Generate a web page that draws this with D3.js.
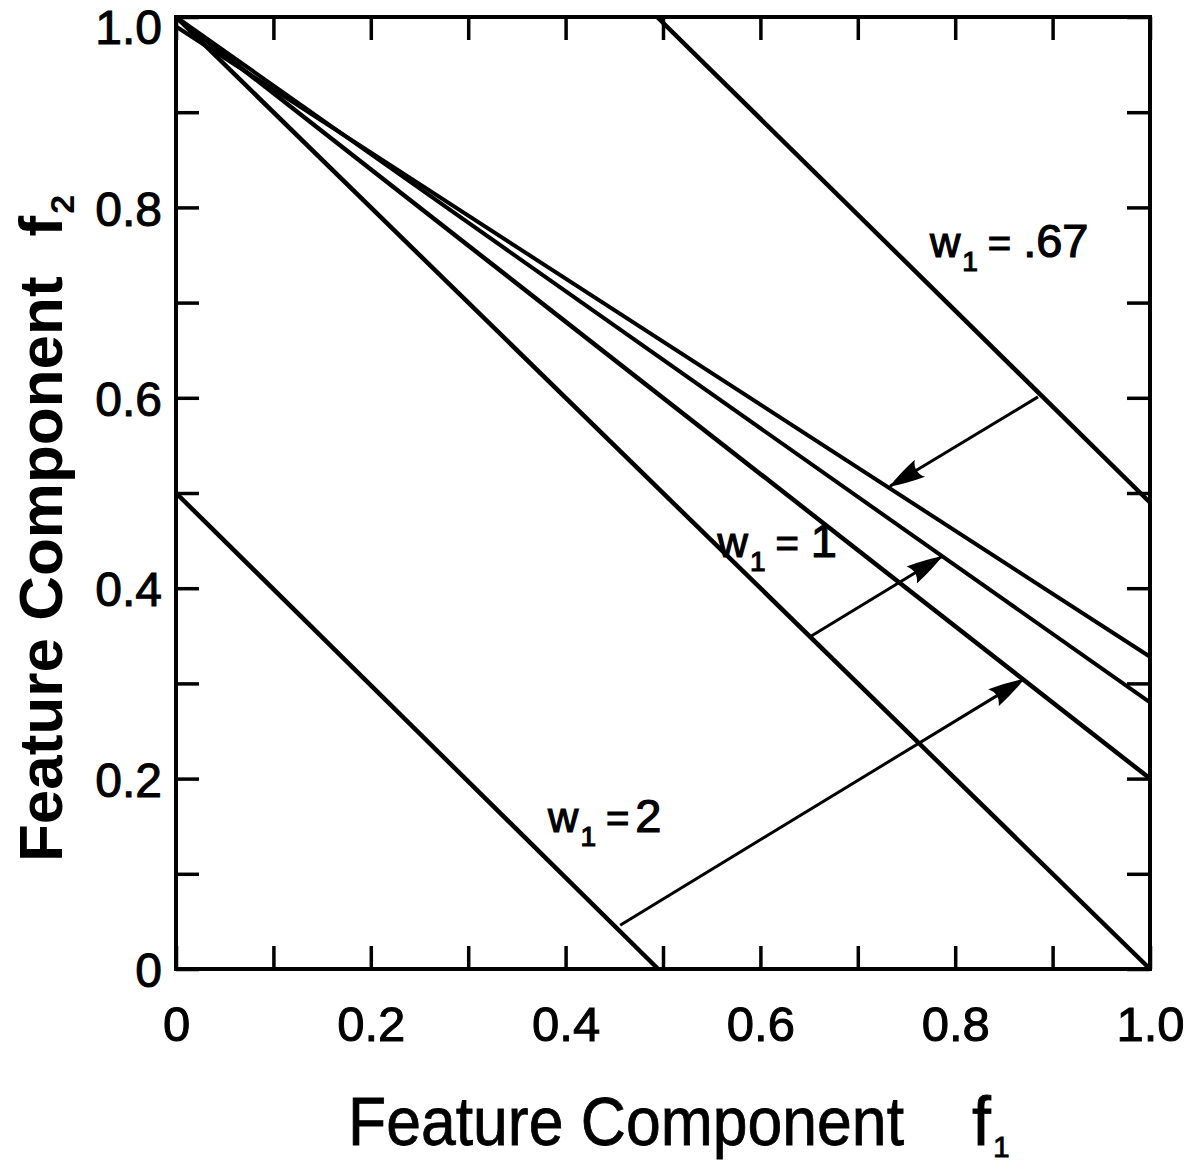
<!DOCTYPE html>
<html><head><meta charset="utf-8">
<script src="https://cdn.jsdelivr.net/npm/d3@7"></script>
<style>html,body{margin:0;padding:0;background:#fff}svg{display:block}</style>
</head><body>
<svg id="c" width="1192" height="1169"></svg>
<script>
// ---- data ----
const xTickValues = [0, 0.1, 0.2, 0.3, 0.4, 0.5, 0.6, 0.7, 0.8, 0.9, 1.0];
const yTickValues = [0, 0.1, 0.2, 0.3, 0.4, 0.5, 0.6, 0.7, 0.8, 0.9, 1.0];
const xLabelValues = [0, 0.2, 0.4, 0.6, 0.8, 1.0];
const xLabels = ["0", "0.2", "0.4", "0.6", "0.8", "1.0"];
const yLabelValues = [0, 0.2, 0.4, 0.6, 0.8, 1.0];
const yLabels = ["0", "0.2", "0.4", "0.6", "0.8", "1.0"];

// decision boundaries (f1, f2 at both ends)
const lineStartF1 = [0, 0, 0, 0, 0, 0.494];
const lineStartF2 = [0.5, 1.0, 1.0, 1.0, 0.99, 1.0];
const lineEndF1 = [0.495, 1.0, 1.0, 1.0, 1.0, 1.0];
const lineEndF2 = [0, 0, 0.2, 0.28, 0.328, 0.49];

// arrows (from -> to)
const arrowFromF1 = [0.885, 0.651, 0.456];
const arrowFromF2 = [0.601, 0.349, 0.046];
const arrowToF1 = [0.733, 0.786, 0.870];
const arrowToF2 = [0.507, 0.433, 0.304];

// weight annotations
const weightValues = [".67", "1", "2"];
const weightAtF1 = [0.774, 0.556, 0.382];
const weightAtF2 = [0.748, 0.433, 0.144];

const xTitle = "Feature Component";
const yTitle = "Feature Component";

// ---- drawing ----
const svg = d3.select("#c");
const FONT = "'Liberation Sans', Arial, sans-serif";
const x = d3.scaleLinear().domain([0, 1]).range([176, 1150]);
const y = d3.scaleLinear().domain([0, 1]).range([969, 17]);

const defs = svg.append("defs");
defs.append("marker").attr("id", "ah")
  .attr("viewBox", "0 0 36 24").attr("refX", 35).attr("refY", 12)
  .attr("markerWidth", 36).attr("markerHeight", 24)
  .attr("markerUnits", "userSpaceOnUse").attr("orient", "auto")
  .append("path").attr("d", "M0,2 Q20,6 36,12 Q20,18 0,22 Q8,12 0,2 Z").attr("fill", "#000");

// ticks (inward) on all four sides
const tl = 23;
function styleAxis(g) {
  g.select(".domain").remove();
  g.selectAll(".tick line").attr("stroke", "#000").attr("stroke-width", 3.5);
  g.selectAll(".tick text").remove();
}
svg.append("g").attr("transform", `translate(0,${y(0)})`)
  .call(d3.axisBottom(x).tickValues(xTickValues).tickSizeInner(-tl).tickSizeOuter(0)).call(styleAxis);
svg.append("g").attr("transform", `translate(0,${y(1)})`)
  .call(d3.axisTop(x).tickValues(xTickValues).tickSizeInner(-tl).tickSizeOuter(0)).call(styleAxis);
svg.append("g").attr("transform", `translate(${x(0)},0)`)
  .call(d3.axisLeft(y).tickValues(yTickValues).tickSizeInner(-tl).tickSizeOuter(0)).call(styleAxis);
svg.append("g").attr("transform", `translate(${x(1)},0)`)
  .call(d3.axisRight(y).tickValues(yTickValues).tickSizeInner(-tl).tickSizeOuter(0)).call(styleAxis);

// frame
svg.append("rect").attr("x", x(0)).attr("y", y(1))
  .attr("width", x(1) - x(0)).attr("height", y(0) - y(1))
  .attr("fill", "none").attr("stroke", "#000").attr("stroke-width", 4);

// tick labels
const xl = svg.append("g").attr("transform", `translate(0,${y(0)})`)
  .call(d3.axisBottom(x).tickValues(xLabelValues).tickSize(0).tickPadding(0)
    .tickFormat((d, i) => xLabels[i]));
xl.select(".domain").remove();
xl.selectAll("text").attr("dy", null).attr("y", 72)
  .attr("font-family", FONT).attr("font-size", 49).attr("fill", "#000")
  .attr("stroke", "#000").attr("stroke-width", 1);

const yl = svg.append("g").attr("transform", `translate(${x(0)},0)`)
  .call(d3.axisLeft(y).tickValues(yLabelValues).tickSize(0).tickPadding(0)
    .tickFormat((d, i) => yLabels[i]));
yl.select(".domain").remove();
yl.selectAll("text").attr("dy", "0.37em").attr("x", -14)
  .attr("y", d => (d === 1 ? 9 : 0))
  .attr("font-family", FONT).attr("font-size", 48).attr("fill", "#000")
  .attr("stroke", "#000").attr("stroke-width", 1);

// boundary lines
const lineGen = d3.line().x(d => x(d[0])).y(d => y(d[1]));
const lineWidths = [4.5, 4.5, 4.5, 4, 4, 4.5];
lineStartF1.forEach((s, i) => {
  svg.append("path")
    .attr("d", lineGen([[lineStartF1[i], lineStartF2[i]], [lineEndF1[i], lineEndF2[i]]]))
    .attr("fill", "none").attr("stroke", "#000").attr("stroke-width", lineWidths[i])
    .attr("stroke-linecap", "butt");
});

// arrows
arrowFromF1.forEach((s, i) => {
  svg.append("path")
    .attr("d", lineGen([[arrowFromF1[i], arrowFromF2[i]], [arrowToF1[i], arrowToF2[i]]]))
    .attr("fill", "none").attr("stroke", "#000").attr("stroke-width", 3)
    .attr("marker-end", "url(#ah)");
});

// weight labels
const eqGap = [12, 12, 6];
weightValues.forEach((v, i) => {
  const t = svg.append("text")
    .attr("x", x(weightAtF1[i])).attr("y", y(weightAtF2[i]))
    .attr("font-family", FONT).attr("fill", "#000")
    .attr("stroke", "#000").attr("stroke-width", 1.2);
  t.append("tspan").attr("font-size", 42).text("w");
  t.append("tspan").attr("font-size", 28).attr("dy", 14).attr("dx", 2).text("1");
  t.append("tspan").attr("font-size", 40).attr("dy", -14).attr("dx", 10).text("=");
  t.append("tspan").attr("font-size", 47).attr("dx", eqGap[i]).text(v);
});

// axis titles
const xt = svg.append("text").attr("y", 1145)
  .attr("font-family", FONT).attr("font-size", 68).attr("fill", "#000")
  .attr("stroke", "#000").attr("stroke-width", 0.8);
xt.append("tspan").attr("x", 348).attr("textLength", 556).attr("lengthAdjust", "spacingAndGlyphs").text(xTitle);
xt.append("tspan").attr("x", 972).text("f");
xt.append("tspan").attr("font-size", 30).attr("dy", 12).attr("dx", 2).text("1");

const yt = svg.append("text").attr("transform", "translate(62,862) rotate(-90)")
  .attr("font-family", FONT).attr("font-weight", "bold").attr("font-size", 62).attr("fill", "#000");
yt.append("tspan").text(yTitle);
yt.append("tspan").attr("dx", 40).text("f");
yt.append("tspan").attr("font-size", 34).attr("dy", 12).attr("dx", 2).text("2");
</script>
</body></html>
